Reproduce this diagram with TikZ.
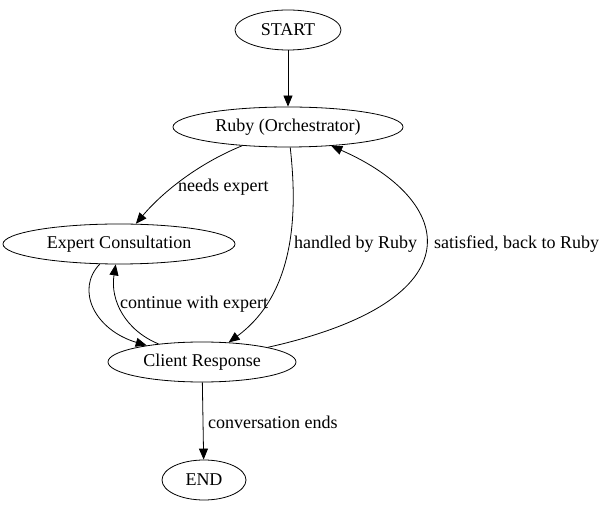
\documentclass[tikz,border=0pt]{standalone}
\usepackage{fontspec}
\setmainfont{Liberation Serif}
\usetikzlibrary{shapes.geometric,arrows.meta}

\begin{document}
\begin{tikzpicture}[x=1pt,y=-1pt,
				state/.style={ellipse,draw,line width=0.8pt,minimum height=40pt,inner sep=0pt,font=\fontsize{18}{20}\selectfont},
				lbl/.style={anchor=west,inner sep=0pt,font=\fontsize{18}{20}\selectfont},
				edge/.style={line width=0.8pt,-{Triangle[length=11pt,width=9pt]}}]
				\useasboundingbox (0,0) rectangle (608,510);
				\node[state,minimum width=106pt] (start) at (288,30) {START};
				\node[state,minimum width=230pt] (ruby) at (288,127) {Ruby (Orchestrator)};
				\node[state,minimum width=232pt] (expert) at (119,244) {Expert Consultation};
				\node[state,minimum width=188pt] (client) at (202,362) {Client Response};
				\node[state,minimum width=84pt] (end) at (204,480) {END};
				\draw[edge] (start) -- (ruby);
				\draw[edge] (ruby) .. controls (195,165) and (160,195) .. (expert);
				\draw[edge] (ruby) .. controls (296,200) and (300,290) .. (client);
				\draw[edge] (client) .. controls (480,300) and (455,200) .. (ruby);
				\draw[edge] (expert) .. controls (75,290) and (95,330) .. (client);
				\draw[edge] (client) .. controls (125,330) and (110,300) .. (expert);
				\draw[edge] (client) -- (end);
				\node[lbl] (l-needs) at (178,187) {needs expert};
				\node[lbl] (l-handled) at (294,244) {handled by Ruby};
				\node[lbl] (l-back) at (434,244) {satisfied, back to Ruby};
				\node[lbl] (l-continue) at (120,304) {continue with expert};
				\node[lbl] (l-ends) at (208,422) {conversation ends};
			\end{tikzpicture}
\end{document}
